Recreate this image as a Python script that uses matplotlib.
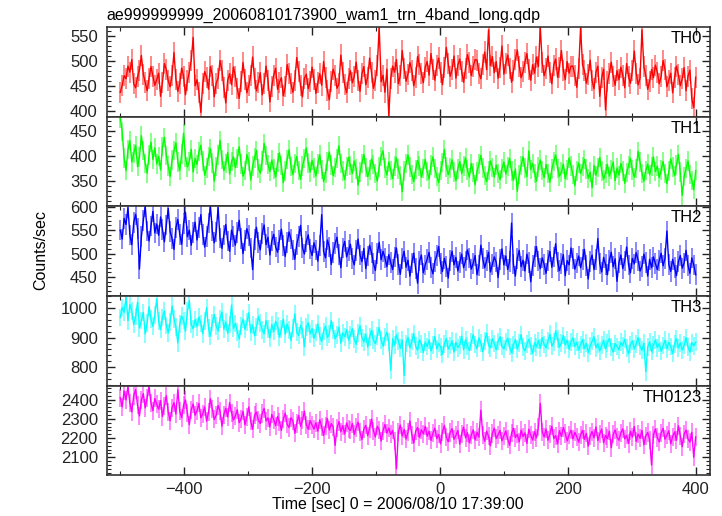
import numpy as np
import matplotlib
matplotlib.use('Agg')
import matplotlib.pyplot as plt
from matplotlib.ticker import MultipleLocator

plt.rcParams['font.family'] = ['Liberation Sans', 'DejaVu Sans']

# time bins (sec), 3 s steps from -500 to 400
t_start, t_step = -500, 3

th0 = [438, 452, 471, 465, 490, 478, 503, 455, 447, 469, 482, 511, 474, 458, 441, 466, 489, 470, 452, 463,
       476, 430, 458, 495, 483, 461, 449, 472, 517, 464, 440, 455, 486, 470, 433, 461, 478, 502, 547, 451,
       463, 437, 398, 455, 479, 468, 444, 489, 472, 429, 456, 466, 501, 482, 448, 417, 462, 475, 453, 488,
       470, 445, 426, 459, 497, 464, 437, 452, 471, 508, 466, 441, 458, 477, 433, 455, 490, 462, 419, 450,
       472, 486, 444, 458, 467, 431, 449, 493, 476, 455, 438, 462, 507, 480, 451, 429, 466, 474, 445, 459,
       488, 463, 436, 457, 475, 452, 499, 468, 441, 423, 460, 484, 471, 446, 455, 512, 478, 453, 437, 466,
       481, 457, 470, 498, 462, 440, 475, 489, 453, 468, 506, 477, 446, 462, 491, 566, 459, 472, 438, 484,
       392, 465, 490, 478, 503, 455, 471, 521, 486, 460, 474, 497, 482, 451, 468, 509, 493, 476, 457, 488,
       499, 472, 515, 484, 462, 491, 506, 478, 453, 488, 527, 495, 470, 483, 510, 466, 492, 504, 479, 458,
       486, 513, 497, 471, 489, 503, 502, 476, 465, 494, 518, 483, 562, 491, 509, 477, 499, 466, 488, 530,
       474, 495, 512, 486, 458, 481, 503, 522, 490, 467, 479, 498, 515, 484, 462, 493, 476, 508, 489, 566,
       497, 471, 485, 510, 478, 455, 492, 504, 468, 487, 521, 482, 463, 499, 476, 490, 490, 472, 448, 485,
       566, 493, 481, 456, 474, 502, 461, 445, 478, 490, 430, 467, 484, 403, 459, 476, 498, 470, 452, 481,
       463, 488, 472, 447, 495, 469, 456, 481, 520, 476, 453, 466, 562, 489, 471, 444, 460, 483, 467, 492,
       478, 455, 469, 501, 484, 449, 462, 476, 437, 468, 490, 473, 451, 465, 487, 441, 470, 482, 425, 408,
       468]

th1 = [475, 448, 396, 371, 412, 430, 388, 405, 421, 379, 398, 440, 410, 385, 366, 402, 427, 393, 416, 384,
       399, 372, 418, 437, 401, 380, 359, 392, 410, 426, 388, 371, 404, 445, 397, 378, 389, 413, 368, 395,
       383, 408, 421, 390, 362, 376, 399, 414, 386, 350, 379, 402, 431, 393, 371, 385, 407, 364, 389, 398,
       377, 395, 418, 384, 360, 371, 403, 389, 352, 380, 396, 411, 375, 366, 390, 425, 401, 383, 369, 392,
       374, 358, 387, 406, 381, 347, 370, 393, 412, 379, 363, 385, 399, 371, 354, 380, 395, 416, 386, 368,
       391, 376, 360, 384, 402, 373, 349, 366, 389, 408, 382, 361, 377, 395, 420, 385, 370, 353, 379, 397,
       381, 365, 390, 374, 342, 368, 385, 403, 377, 359, 372, 394, 383, 366, 350, 378, 399, 410, 376, 362,
       388, 371, 355, 380, 396, 374, 361, 329, 370, 385, 402, 378, 364, 349, 373, 391, 380, 358, 375, 393,
       369, 354, 382, 398, 375, 360, 347, 371, 387, 413, 378, 363, 376, 392, 368, 351, 374, 389, 365, 380,
       396, 372, 358, 385, 367, 343, 369, 384, 401, 376, 362, 349, 371, 390, 377, 358, 382, 366, 353, 375,
       388, 364, 379, 395, 370, 352, 374, 330, 363, 381, 398, 376, 359, 410, 373, 385, 366, 350, 378, 392,
       371, 357, 383, 366, 348, 374, 389, 402, 375, 360, 368, 384, 355, 372, 396, 380, 363, 341, 370, 386,
       365, 379, 393, 374, 356, 368, 337, 381, 362, 377, 397, 370, 354, 366, 383, 360, 373, 388, 351, 376,
       362, 385, 370, 346, 367, 381, 395, 372, 358, 375, 409, 388, 366, 350, 371, 384, 363, 379, 398, 369,
       380, 357, 372, 389, 366, 345, 370, 394, 378, 361, 382, 403, 368, 322, 359, 375, 390, 364, 352, 333,
       371]

th2 = [550, 531, 575, 562, 598, 540, 519, 566, 584, 553, 467, 536, 570, 601, 548, 527, 559, 590, 544, 563,
       539, 578, 552, 525, 561, 596, 547, 532, 509, 555, 573, 541, 520, 564, 588, 536, 550, 518, 545, 567,
       529, 556, 583, 541, 514, 537, 565, 601, 548, 523, 546, 598, 533, 511, 540, 562, 527, 505, 550, 536,
       518, 545, 571, 532, 500, 528, 553, 539, 512, 466, 530, 556, 524, 508, 543, 561, 519, 535, 497, 527,
       541, 514, 503, 529, 552, 517, 494, 523, 546, 531, 508, 488, 520, 537, 560, 512, 499, 526, 540, 510,
       496, 523, 508, 484, 517, 583, 505, 491, 529, 514, 477, 502, 521, 535, 498, 470, 512, 526, 493, 507,
       520, 489, 476, 506, 531, 497, 483, 511, 468, 495, 518, 502, 479, 464, 500, 524, 487, 505, 491, 472,
       498, 481, 466, 493, 512, 477, 456, 489, 505, 471, 486, 452, 480, 501, 468, 437, 484, 497, 459, 476,
       488, 503, 471, 457, 483, 496, 515, 479, 462, 490, 473, 448, 486, 505, 476, 492, 463, 481, 499, 470,
       484, 508, 491, 467, 479, 496, 455, 474, 518, 489, 470, 485, 503, 461, 477, 493, 482, 449, 488, 510,
       476, 495, 466, 483, 565, 478, 452, 490, 507, 472, 486, 463, 499, 481, 440, 475, 494, 515, 484, 468,
       491, 477, 458, 486, 505, 471, 493, 521, 482, 464, 479, 498, 453, 485, 476, 512, 490, 467, 480, 495,
       470, 487, 509, 475, 446, 483, 497, 466, 488, 532, 479, 461, 492, 477, 455, 486, 503, 472, 489, 441,
       481, 497, 468, 484, 514, 476, 459, 490, 478, 502, 486, 463, 473, 499, 481, 452, 488, 470, 493, 479,
       466, 485, 501, 474, 490, 548, 477, 462, 488, 471, 453, 483, 496, 469, 480, 507, 475, 458, 491, 476,
       455]

th3 = [968, 1002, 985, 1038, 957, 1012, 990, 944, 971, 1020, 933, 958, 985, 912, 949, 1004, 962, 938, 976, 1031,
       955, 927, 968, 990, 941, 916, 952, 1007, 963, 935, 882, 946, 972, 958, 921, 989, 1025, 944, 930, 961,
       937, 970, 948, 913, 956, 1001, 932, 905, 951, 978, 940, 922, 963, 986, 929, 953, 915, 944, 1010, 931,
       948, 920, 895, 939, 962, 928, 952, 984, 917, 943, 906, 935, 971, 949, 926, 913, 958, 930, 899, 944,
       921, 955, 938, 902, 929, 962, 911, 946, 925, 890, 933, 980, 918, 907, 941, 927, 869, 936, 950, 913,
       930, 898, 917, 946, 905, 887, 921, 939, 900, 913, 958, 924, 896, 910, 935, 881, 916, 903, 927, 892,
       908, 931, 895, 877, 915, 940, 899, 886, 912, 868, 903, 925, 891, 880, 906, 934, 893, 871, 902, 918,
       884, 790, 897, 875, 909, 888, 864, 892, 772, 880, 901, 866, 887, 913, 871, 858, 893, 879, 850, 885,
       870, 892, 855, 876, 904, 862, 881, 868, 843, 879, 897, 861, 873, 889, 851, 884, 866, 876, 905, 859,
       893, 872, 856, 884, 910, 877, 863, 899, 881, 852, 888, 915, 874, 866, 896, 880, 859, 887, 903, 871,
       862, 884, 898, 870, 849, 876, 893, 861, 882, 910, 867, 855, 879, 894, 872, 846, 883, 869, 890, 864,
       900, 877, 865, 889, 912, 871, 884, 923, 896, 868, 882, 907, 875, 891, 861, 886, 899, 870, 884, 858,
       877, 893, 864, 881, 849, 872, 888, 903, 866, 879, 855, 874, 891, 862, 883, 897, 868, 851, 880, 870,
       859, 884, 873, 895, 866, 845, 877, 889, 862, 878, 900, 870, 857, 881, 785, 868, 886, 853, 875, 892,
       866, 880, 854, 873, 891, 862, 884, 870, 846, 879, 896, 865, 882, 858, 874, 900, 869, 851, 883, 872,
       885]

th0123 = [2410, 2362, 2445, 2398, 2470, 2381, 2336, 2420, 2452, 2370, 2315, 2398, 2431, 2357, 2410, 2468, 2383, 2342, 2406, 2375,
          2350, 2395, 2312, 2368, 2420, 2336, 2290, 2357, 2384, 2325, 2451, 2340, 2306, 2372, 2398, 2331, 2270, 2348, 2377, 2319,
          2342, 2380, 2305, 2326, 2362, 2288, 2334, 2405, 2351, 2297, 2318, 2369, 2340, 2262, 2322, 2355, 2310, 2384, 2331, 2295,
          2315, 2347, 2280, 2301, 2339, 2269, 2310, 2362, 2288, 2246, 2319, 2335, 2293, 2276, 2328, 2354, 2290, 2305, 2258, 2323,
          2296, 2265, 2312, 2284, 2240, 2298, 2330, 2271, 2255, 2306, 2289, 2225, 2276, 2318, 2262, 2293, 2340, 2270, 2246, 2291,
          2268, 2247, 2280, 2236, 2295, 2259, 2214, 2263, 2301, 2242, 2275, 2258, 2162, 2251, 2286, 2233, 2265, 2221, 2279, 2249,
          2240, 2276, 2219, 2255, 2283, 2230, 2192, 2248, 2266, 2212, 2250, 2298, 2237, 2206, 2261, 2243, 2185, 2238, 2271, 2226,
          2252, 2219, 2240, 2185, 2040, 2233, 2268, 2211, 2245, 2195, 2230, 2289, 2218, 2174, 2236, 2255, 2204, 2243, 2222, 2261,
          2210, 2235, 2188, 2226, 2252, 2197, 2219, 2170, 2233, 2266, 2205, 2181, 2229, 2249, 2194, 2214, 2240, 2168, 2222, 2257,
          2201, 2228, 2176, 2215, 2243, 2190, 2231, 2205, 2345, 2218, 2183, 2236, 2209, 2160, 2224, 2252, 2198, 2217, 2240, 2186,
          2212, 2237, 2195, 2163, 2226, 2251, 2203, 2219, 2180, 2241, 2208, 2227, 2172, 2246, 2215, 2190, 2233, 2201, 2256, 2380,
          2232, 2206, 2247, 2189, 2221, 2262, 2198, 2213, 2170, 2238, 2209, 2255, 2224, 2185, 2218, 2241, 2196, 2230, 2207, 2179,
          2216, 2240, 2193, 2225, 2158, 2210, 2234, 2201, 2258, 2187, 2222, 2246, 2175, 2213, 2198, 2236, 2150, 2219, 2242, 2204,
          2189, 2227, 2248, 2196, 2214, 2172, 2235, 2205, 2260, 2183, 2221, 2199, 2240, 2165, 2211, 2229, 2192, 2060, 2218, 2247,
          2203, 2180, 2226, 2251, 2194, 2215, 2238, 2170, 2208, 2232, 2189, 2264, 2213, 2155, 2221, 2242, 2196, 2179, 2230, 2100,
          2206]

series = [th0, th1, th2, th3, th0123]
names = ['TH0', 'TH1', 'TH2', 'TH3', 'TH0123']
errs = [21, 19, 22, 30, 47]
colors = ['#ff0000', '#00ff00', '#0000ff', '#00ffff', '#ff00ff']
ylims = [(390, 568), (300.5, 478), (410, 601), (738, 1041), (2007, 2473)]
majors = [50, 50, 50, 100, 100]
minors = [10, 10, 10, 20, 20]

fig, axs = plt.subplots(5, 1, sharex=True, figsize=(7.22, 5.16), dpi=100)
fig.subplots_adjust(left=0.148, right=0.983, top=0.948, bottom=0.079, hspace=0)

for ax, y, name, err, c, yl, mj, mn in zip(axs, series, names, errs, colors, ylims, majors, minors):
    x = t_start + t_step * np.arange(len(y))
    ax.errorbar(x, y, yerr=err, fmt='-', color=c, lw=1.0, ecolor=c, elinewidth=1.3)
    # lighter error bars
    ax.collections[-1].set_alpha(0.5)
    ax.set_ylim(*yl)
    ax.set_xlim(-521, 422)
    ax.yaxis.set_major_locator(MultipleLocator(mj))
    ax.yaxis.set_minor_locator(MultipleLocator(mn))
    ax.xaxis.set_major_locator(MultipleLocator(200))
    ax.xaxis.set_minor_locator(MultipleLocator(100))
    ax.tick_params(which='both', direction='in', top=True, right=True, labelsize=12, colors='#222222')
    ax.tick_params(axis='y', pad=6.5)
    ax.tick_params(axis='x', pad=5)
    ax.tick_params(which='major', length=6, width=1)
    ax.tick_params(which='minor', length=3, width=0.8)
    for s in ax.spines.values():
        s.set_linewidth(1.2)
        s.set_color('#333333')
    ax.text(0.987, 0.955, name, transform=ax.transAxes, ha='right', va='top', fontsize=12)

fig.text(0.551, 1 - 509 / 516, 'Time [sec] 0 = 2006/08/10 17:39:00', ha='center', va='baseline', fontsize=11.5)
fig.text(0.057, 0.515, 'Counts/sec', rotation=90, ha='center', va='center', fontsize=11.5)
fig.text(0.148, 1 - 20 / 516, 'ae999999999_20060810173900_wam1_trn_4band_long.qdp',
         ha='left', va='baseline', fontsize=11.5)

fig.savefig('out.png', dpi=100)
